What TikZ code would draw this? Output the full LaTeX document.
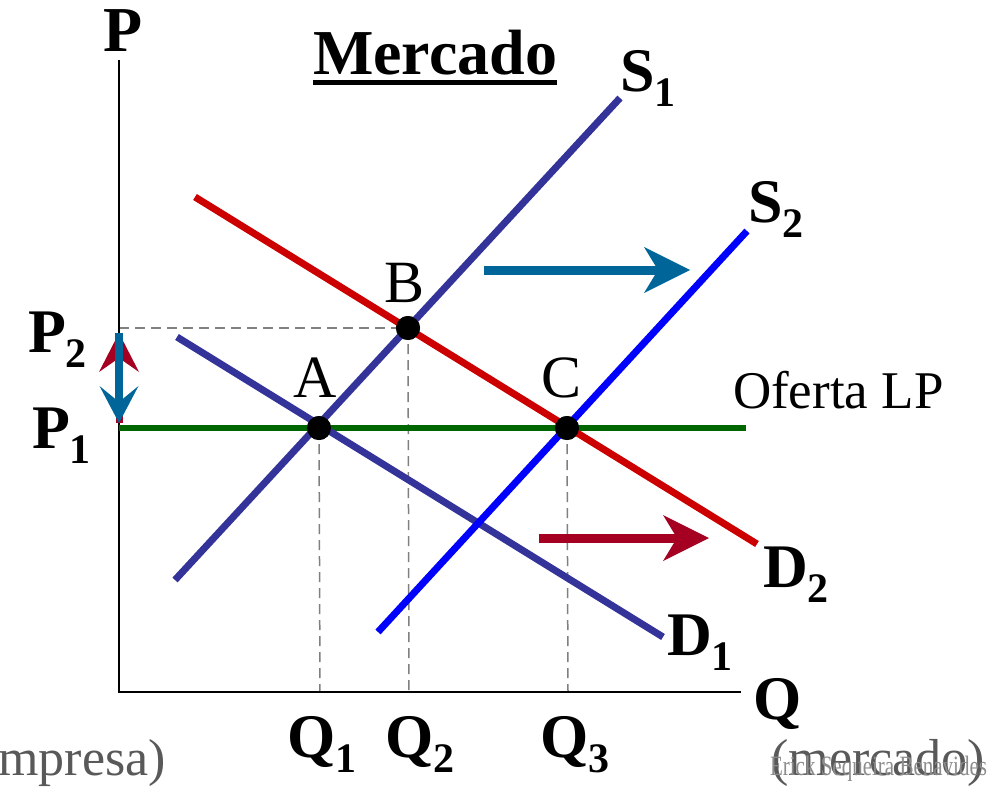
\documentclass[tikz,border=0pt]{standalone}
\usepackage{fontspec}
\setmainfont{Liberation Serif}
\usetikzlibrary{arrows.meta}
\definecolor{sdblue}{RGB}{51,51,153}
\definecolor{dred}{RGB}{204,0,0}
\definecolor{sblue}{RGB}{0,0,255}
\definecolor{lpgreen}{RGB}{0,102,0}
\definecolor{shiftblue}{RGB}{0,102,153}
\definecolor{shiftred}{RGB}{165,0,33}
\definecolor{txtgray}{RGB}{89,89,89}
\definecolor{wmgray}{RGB}{140,140,140}
\definecolor{dashgray}{RGB}{128,128,128}
\newcommand{\bigfs}{\fontsize{62}{62}\selectfont}
\newcommand{\lbl}[2]{{\bfseries\bigfs #1\raisebox{-15pt}{\fontsize{42}{42}\selectfont #2}}}
\tikzset{
  lab/.style={inner sep=0pt, outer sep=0pt},
  curve/.style={line width=7pt, line cap=butt},
  guide/.style={dashgray, line width=1.5pt, dash pattern=on 10pt off 6pt},
  eqdot/.style={circle, fill=black, minimum size=24pt, inner sep=0pt},
  bigarrow/.style={line width=9pt, -{Stealth[length=46pt, width=46pt, inset=14pt, line width=0pt]}},
}
\begin{document}
\begin{tikzpicture}[x=1pt,y=-1pt]
\useasboundingbox (0,0) rectangle (988,789);
% coordinates
\coordinate (O) at (119,692);
\coordinate (ytop) at (119,60);
\coordinate (xend) at (741,692);
\coordinate (s1a) at (175,580);
\coordinate (s1b) at (620,98);
\coordinate (d1a) at (177,337);
\coordinate (d1b) at (663,637);
\coordinate (d2a) at (195,197);
\coordinate (d2b) at (757,544);
\coordinate (s2a) at (378,632);
\coordinate (s2b) at (747,231);
\coordinate (lpa) at (119,428);
\coordinate (lpb) at (746,428);
\coordinate (p2) at (119,328);
\coordinate (qa) at (320,692);
\coordinate (qb) at (409,692);
\coordinate (qc) at (568,692);
% dots (nodes)
\node[eqdot] (A) at (319,428) {};
\node[eqdot] (B) at (408,328) {};
\node[eqdot] (C) at (567,428) {};
% guides
\draw[guide] (p2) -- (B.center);
\draw[guide] (B.center) -- (qb);
\draw[guide] (A.center) -- (qa);
\draw[guide] (C.center) -- (qc);
% axes
\draw[line width=2pt] (ytop) -- (O) -- (xend);
% curves
\draw[lpgreen, line width=5.5pt] (lpa) -- (lpb);
\draw[curve, sdblue] (d1a) -- (d1b);
\draw[curve, sdblue] (s1a) -- (s1b);
\draw[curve, sblue] (s2a) -- (s2b);
\draw[curve, dred] (d2a) -- (d2b);
% redraw dots on top
\node[eqdot] at (A) {};
\node[eqdot] at (B) {};
\node[eqdot] at (C) {};
% shift arrows
\coordinate (ba) at (484,270);
\coordinate (bb) at (690,270);
\coordinate (ra) at (539,538);
\coordinate (rb) at (709,538);
\draw[bigarrow, shiftblue] (ba) -- (bb);
\draw[bigarrow, shiftred] (ra) -- (rb);
\coordinate (vtop) at (119,333);
\coordinate (vbot) at (119,423);
\draw[shiftred, line width=7pt, -{Stealth[length=39pt, width=40pt, inset=14pt, line width=0pt]}] (vbot) -- (vtop);
\draw[shiftblue, line width=8pt, -{Stealth[length=37pt, width=39pt, inset=16pt, line width=0pt]}] (vtop) -- (vbot);
% labels
\node[lab, anchor=base west] (Plab) at (103,52) {\bfseries\fontsize{64}{64}\selectfont P};
\node[lab, anchor=base west] (mer) at (313,75) {\bfseries\fontsize{64}{64}\selectfont Mercado};
\draw[line width=5pt] ([yshift=-8pt]mer.base west) -- ([yshift=-8pt]mer.base east);
\node[lab, anchor=base west] (S1) at (620,92) {\lbl{S}{1}};
\node[lab, anchor=base west] (S2) at (748,222) {\lbl{S}{2}};
\node[lab, anchor=base west] (D2) at (763,587) {\lbl{D}{2}};
\node[lab, anchor=base west] (D1) at (667,655) {\lbl{D}{1}};
\node[lab, anchor=base west] (Qlab) at (753,719) {\bfseries\bigfs Q};
\node[lab, anchor=base west] (Q1) at (287,757) {\lbl{Q}{1}};
\node[lab, anchor=base west] (Q2) at (385,757) {\lbl{Q}{2}};
\node[lab, anchor=base west] (Q3) at (540,757) {\lbl{Q}{3}};
\node[lab, anchor=base west] (P2) at (28,352) {\lbl{P}{2}};
\node[lab, anchor=base west] (P1) at (32,448) {\lbl{P}{1}};
\node[lab, anchor=base] (Alab) at (315,397) {\fontsize{60}{60}\selectfont A};
\node[lab, anchor=base] (Blab) at (405,302) {\fontsize{60}{60}\selectfont B};
\node[lab, anchor=base] (Clab) at (562,397) {\fontsize{60}{60}\selectfont C};
\node[lab, anchor=base west] (lp) at (733,408) {\fontsize{53}{53}\selectfont Oferta LP};
\node[lab, anchor=base east, txtgray] (emp) at (166,775) {\fontsize{52}{52}\selectfont mpresa)};
\node[lab, anchor=base east, txtgray] (mkt) at (985,775) {\fontsize{52}{52}\selectfont (mercado)};
\node[lab, anchor=base east, wmgray] (wm) at (987,775) {\scalebox{0.75}[1]{\fontsize{28}{28}\selectfont Erick Sequeira Benavides}};
\end{tikzpicture}
\end{document}
